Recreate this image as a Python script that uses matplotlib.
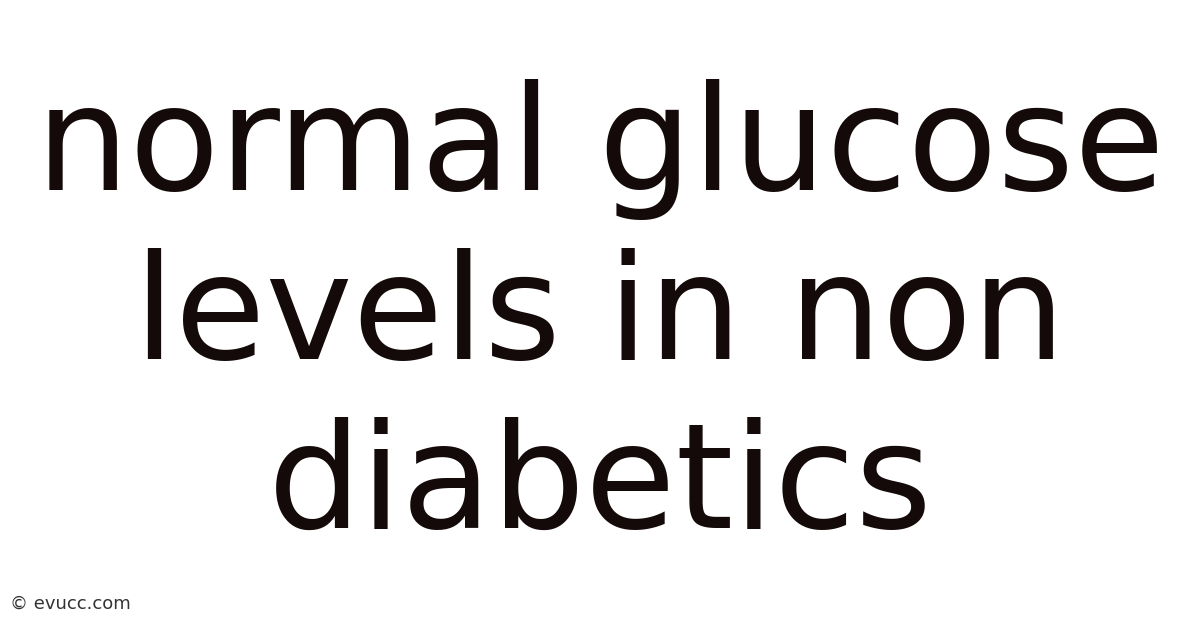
import matplotlib.pyplot as plt

title_lines = ["normal glucose", "levels in non", "diabetics"]
watermark = "© evucc.com"

text_color = "#140a0a"

fig = plt.figure(figsize=(12, 6.28), dpi=100)
fig.patch.set_facecolor("white")

# three centred lines of big text
fig.text(0.5, 0.493, "\n".join(title_lines), ha="center", va="center",
         fontsize=106, color=text_color, family="DejaVu Sans",
         linespacing=1.25)

# small watermark bottom-left
fig.text(0.008, 0.038, watermark, ha="left", va="center",
         fontsize=13, color="#333333", family="DejaVu Sans")

fig.savefig("out.png", dpi=100, facecolor="white")
